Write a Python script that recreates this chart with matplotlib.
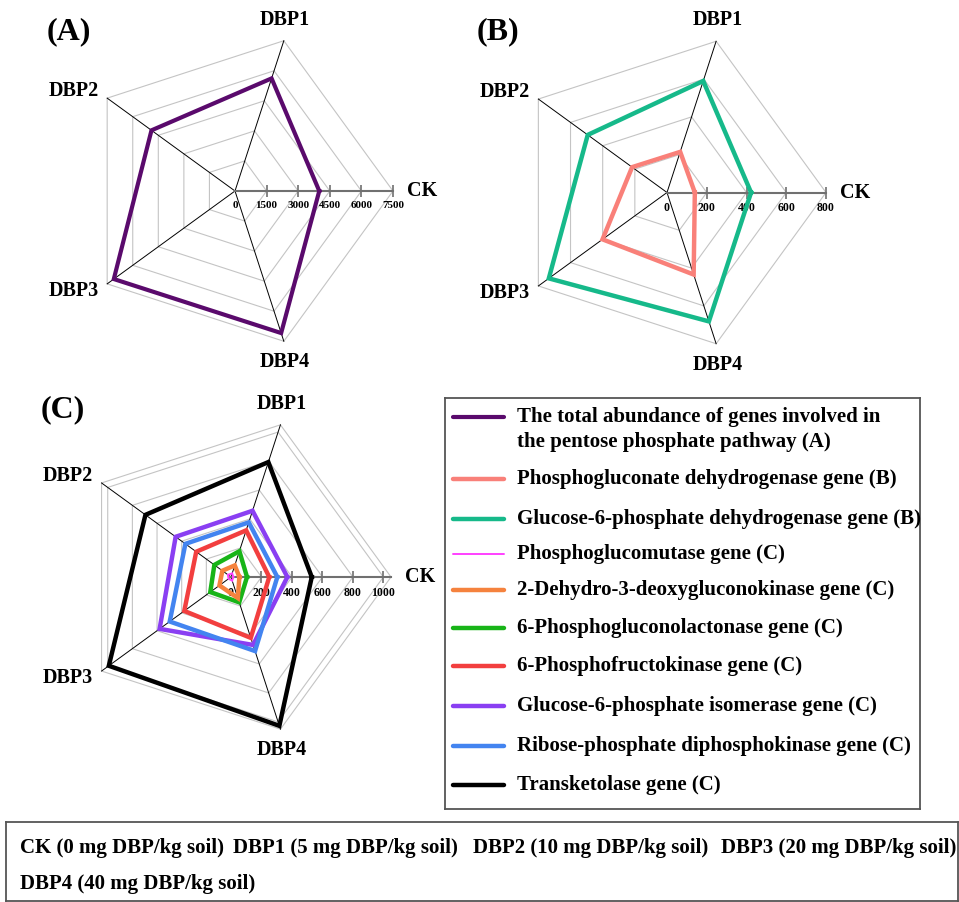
import numpy as np
import matplotlib.pyplot as plt

plt.rcParams['font.family'] = ['Liberation Serif', 'DejaVu Serif']
plt.rcParams['font.weight'] = 'bold'

# treatments around each radar (counter-clockwise from the right)
categories = ['CK', 'DBP1', 'DBP2', 'DBP3', 'DBP4']

# (A) total pentose phosphate pathway gene abundance
total_ppp = [4000, 5620, 4900, 7110, 7090]

# (B) oxidative branch genes
pgd = [140, 215, 217, 401, 434]
g6pd = [423, 590, 493, 735, 682]

# (C) remaining genes
pgm = [15, 25, 25, 20, 25]
kdgk = [55, 80, 70, 94, 145]
pgls = [105, 178, 135, 168, 175]
pfk = [251, 322, 282, 379, 420]
gpi = [370, 457, 449, 579, 469]
prps = [304, 377, 370, 497, 511]
tkt = [530, 793, 694, 991, 1027]

ticks_a = [0, 1500, 3000, 4500, 6000, 7500]
ticks_b = [0, 200, 400, 600, 800]
ticks_c = [0, 200, 400, 600, 800, 1000]

labels = [
    'The total abundance of genes involved in\nthe pentose phosphate pathway (A)',
    'Phosphogluconate dehydrogenase gene (B)',
    'Glucose-6-phosphate dehydrogenase gene (B)',
    'Phosphoglucomutase gene (C)',
    '2-Dehydro-3-deoxygluconokinase gene (C)',
    '6-Phosphogluconolactonase gene (C)',
    '6-Phosphofructokinase gene (C)',
    'Glucose-6-phosphate isomerase gene (C)',
    'Ribose-phosphate diphosphokinase gene (C)',
    'Transketolase gene (C)',
]
colors = ['#5a0a6c', '#f98079', '#16b98a', '#ff40ff', '#f5823e',
          '#18b418', '#f23f3f', '#8a3ff2', '#4384f0', '#000000']
widths = [3.0, 3.2, 3.2, 1.4, 3.2, 3.2, 3.2, 3.2, 3.2, 3.2]

treatments = ['CK (0 mg DBP/kg soil)', 'DBP1 (5 mg DBP/kg soil)',
              'DBP2 (10 mg DBP/kg soil)', 'DBP3 (20 mg DBP/kg soil)',
              'DBP4 (40 mg DBP/kg soil)']

W, H = 959, 902
LIM = 1.45
theta = np.deg2rad(np.arange(len(categories)) * 72.0)

fig = plt.figure(figsize=(W / 100, H / 100), dpi=100)


def radar_axes(cx, cy, R):
    rect = [(cx - LIM * R) / W, 1 - (cy + LIM * R) / H,
            2 * LIM * R / W, 2 * LIM * R / H]
    ax = fig.add_axes(rect)
    ax.set_xlim(-LIM, LIM)
    ax.set_ylim(-LIM, LIM)
    ax.axis('off')
    return ax


def closed(vals, rmax):
    r = np.asarray(vals, dtype=float) / rmax
    r = np.append(r, r[0])
    t = np.append(theta, theta[0])
    return r * np.cos(t), r * np.sin(t)


label_offsets = {
    'CK': ((10, 0), 'left', 'center'),
    'DBP1': ((1, 8), 'center', 'bottom'),
    'DBP2': ((-6, 5), 'right', 'center'),
    'DBP3': ((-6, -5), 'right', 'center'),
    'DBP4': ((1, -8), 'center', 'top'),
}


def draw_radar(ax, ticks, rmax, idx, tick_fs):
    rings = list(ticks[1:])
    if rmax > ticks[-1]:
        rings.append(rmax)
    for t in rings:
        x, y = closed([t] * len(categories), rmax)
        ax.plot(x, y, color='#c4c4c4', lw=0.8, zorder=1)
    for th in theta[1:]:
        ax.plot([0, np.cos(th)], [0, np.sin(th)], color='black', lw=0.7, zorder=1)
    ax.plot([0, 1], [0, 0], color='#707070', lw=1.5, zorder=1)
    tk = np.array(ticks[1:], dtype=float) / rmax
    ax.plot(tk, np.zeros_like(tk), ls='none', marker='|', ms=9, mew=1.2,
            color='#707070', zorder=1)
    for t in ticks:
        ax.annotate(str(t), (t / rmax, 0), xytext=(0, -7), textcoords='offset points',
                    ha='center', va='top', fontsize=tick_fs, zorder=1)
    for name, th in zip(categories, theta):
        off, ha, va = label_offsets[name]
        ax.annotate(name, (np.cos(th), np.sin(th)), xytext=off,
                    textcoords='offset points', ha=ha, va=va, fontsize=14.5)
    for i in idx:
        x, y = closed(series[i], rmax)
        ax.plot(x, y, color=colors[i], lw=widths[i], zorder=3,
                solid_joinstyle='miter')


series = [total_ppp, pgd, g6pd, pgm, kdgk, pgls, pfk, gpi, prps, tkt]

ax_a = radar_axes(235, 191, 158)
draw_radar(ax_a, ticks_a, 7500, [0], 8)
ax_b = radar_axes(667, 192.5, 159)
draw_radar(ax_b, ticks_b, 800, [1, 2], 8.5)
ax_c = radar_axes(231, 577, 160)
draw_radar(ax_c, ticks_c, 1050, [9, 7, 8, 6, 5, 4, 3], 8.5)

fig.text(69 / W, 1 - 32 / H, '(A)', fontsize=23, ha='center', va='center')
fig.text(498 / W, 1 - 32 / H, '(B)', fontsize=23, ha='center', va='center')
fig.text(63 / W, 1 - 410 / H, '(C)', fontsize=23, ha='center', va='center')

# legend box
lx0, ly0, lx1, ly1 = 445, 398, 920, 809
lax = fig.add_axes([lx0 / W, 1 - ly1 / H, (lx1 - lx0) / W, (ly1 - ly0) / H])
lax.set_xlim(0, lx1 - lx0)
lax.set_ylim(ly1 - ly0, 0)
lax.set_xticks([])
lax.set_yticks([])
for s in lax.spines.values():
    s.set_color('#555555')
    s.set_linewidth(1.3)
row_y = [31.5, 81.5, 121, 155.5, 192, 230, 268, 308, 347.5, 387]
for i, lab in enumerate(labels):
    hy = 18.7 if i == 0 else row_y[i]
    lax.plot([8, 59], [hy, hy], color=colors[i], lw=widths[i],
             solid_capstyle='round')
    lax.text(72, row_y[i], lab, fontsize=15, ha='left', va='center',
             linespacing=1.3)

# treatment key box
bx0, by0, bx1, by1 = 6, 822, 958, 901
bax = fig.add_axes([bx0 / W, 1 - by1 / H, (bx1 - bx0) / W, (by1 - by0) / H])
bax.set_xlim(bx0, bx1)
bax.set_ylim(by1, by0)
bax.set_xticks([])
bax.set_yticks([])
for s in bax.spines.values():
    s.set_color('#555555')
    s.set_linewidth(1.3)
tx = [20, 233, 473, 721, 20]
ty = [848, 848, 848, 848, 884]
for t, x, y in zip(treatments, tx, ty):
    bax.text(x, y, t, fontsize=15, ha='left', va='center')

fig.savefig('out.png', dpi=100)
